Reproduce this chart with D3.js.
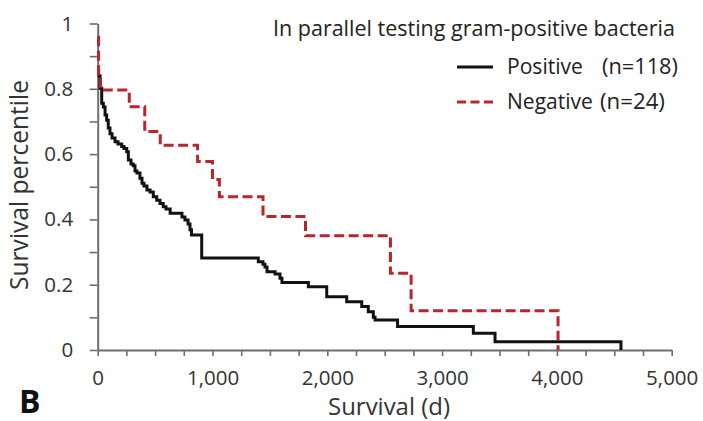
<!DOCTYPE html>
<html>
<head>
<meta charset="utf-8">
<script src="https://cdn.jsdelivr.net/npm/d3@7"></script>
<style>
  body { margin: 0; background: #fff; }
  svg { display: block; font-family: "Open Sans", sans-serif; }
</style>
</head>
<body>
<div class="vis-km"></div>
<script>
// Kaplan-Meier steps: time (d) -> survival after the step
const posTime = [0, 20, 35, 49, 64, 78, 92, 107, 125, 151, 177, 209, 229, 253, 267, 290, 310, 325, 342, 368, 386, 403, 429, 456, 484, 514, 543, 571, 595, 631, 734, 760, 787, 804, 817, 906, 1399, 1440, 1457, 1475, 1545, 1588, 1605, 1835, 1995, 2169, 2300, 2357, 2401, 2416, 2612, 3272, 3461, 4558];
const posSurv = [0.84, 0.802, 0.756, 0.744, 0.72, 0.704, 0.68, 0.662, 0.649, 0.638, 0.631, 0.623, 0.617, 0.607, 0.582, 0.57, 0.564, 0.548, 0.542, 0.526, 0.511, 0.502, 0.49, 0.484, 0.469, 0.459, 0.449, 0.439, 0.432, 0.419, 0.407, 0.398, 0.386, 0.368, 0.352, 0.282, 0.27, 0.263, 0.254, 0.24, 0.233, 0.22, 0.207, 0.194, 0.163, 0.148, 0.133, 0.117, 0.1, 0.092, 0.072, 0.051, 0.025, 0];

const negTime = [0, 8, 25, 275, 410, 545, 870, 1000, 1060, 1440, 1810, 2550, 2730, 4010];
const negSurv = [0.958, 0.84, 0.796, 0.745, 0.669, 0.627, 0.577, 0.522, 0.469, 0.409, 0.35, 0.235, 0.12, 0];

const xTicks = d3.range(0, 5001, 250);
const yTicks = d3.range(0, 1.001, 0.1).map(v => +v.toFixed(1));

const legendTitle = "In parallel testing gram-positive bacteria";
const seriesNames = ["Positive", "Negative"];
const seriesN = ["(n=118)", "(n=24)"];

const draw = () => {
    const width = 703, height = 421;

    const svg = d3.select('.vis-km')
        .append('svg')
        .attr('width', width)
        .attr('height', height);

    svg.append('rect').attr('width', width).attr('height', height).attr('fill', '#fff');

    const x = d3.scaleLinear().domain([0, 5000]).range([97.7, 671.7]);
    const y = d3.scaleLinear().domain([0, 1]).range([350, 23.5]);

    // axes
    const yAxis = d3.axisLeft(y)
        .tickValues(yTicks)
        .tickSize(8)
        .tickSizeOuter(0)
        .tickPadding(16.5)
        .tickFormat(d => (Math.round(d * 10) % 2 === 0) ? d3.format("")(d) : "");

    const xAxis = d3.axisBottom(x)
        .tickValues(xTicks)
        .tickSize(6)
        .tickSizeOuter(0)
        .tickPadding(14)
        .tickFormat(d => d % 1000 === 0 ? d3.format(",")(d) : "");

    const gy = svg.append('g').attr('transform', `translate(${x(0)},0)`).call(yAxis);
    const gx = svg.append('g').attr('transform', `translate(0,${y(0)})`).call(xAxis);

    [gx, gy].forEach(g => {
        g.select('.domain').attr('stroke', '#6e6e6e').attr('stroke-width', 2);
        g.selectAll('.tick line').attr('stroke', '#6e6e6e').attr('stroke-width', 1.6);
        g.selectAll('.tick text')
            .attr('fill', '#333')
            .style('font-family', '"Open Sans", sans-serif')
            .style('font-size', '20.5px');
    });

    // survival curves
    const line = d3.line()
        .x(d => x(d[0]))
        .y(d => y(d[1]))
        .curve(d3.curveStepAfter);

    const posData = posTime.map((t, i) => [t, posSurv[i]]);
    const negData = negTime.map((t, i) => [t, negSurv[i]]);

    svg.append('path')
        .datum(posData)
        .attr('fill', 'none')
        .attr('stroke', '#111')
        .attr('stroke-width', 3)
        .attr('d', line);

    svg.append('path')
        .datum(negData)
        .attr('fill', 'none')
        .attr('stroke', '#b5272d')
        .attr('stroke-width', 3)
        .attr('stroke-dasharray', '10,4.5')
        .attr('d', line);

    // fit a text to a target width by changing its font size
    function fit(sel, w) {
        const len = sel.node().getComputedTextLength();
        const fs = parseFloat(sel.style('font-size'));
        sel.style('font-size', (fs * w / len) + 'px');
    }

    // legend
    const title = svg.append('text')
        .attr('x', 273).attr('y', 36)
        .attr('fill', '#222')
        .style('font-size', '19px')
        .text(legendTitle);
    fit(title, 402);

    const legY = [67, 102];
    const legColor = ['#111', '#b5272d'];
    const nX = [602, 600];
    seriesNames.forEach((name, i) => {
        svg.append('line')
            .attr('x1', 457).attr('x2', 493)
            .attr('y1', legY[i]).attr('y2', legY[i])
            .attr('stroke', legColor[i])
            .attr('stroke-width', 3)
            .attr('stroke-dasharray', i === 1 ? '9,4.5' : null);
        const t = svg.append('text')
            .attr('x', 507).attr('y', legY[i] + 7)
            .attr('fill', '#222')
            .style('font-size', '20px')
            .text(name);
        fit(t, i === 0 ? 76 : 86);
        const n = svg.append('text')
            .attr('x', nX[i]).attr('y', legY[i] + 7)
            .attr('fill', '#222')
            .style('font-size', '20px')
            .text(seriesN[i]);
        fit(n, i === 0 ? 76 : 65);
    });

    // axis titles
    const xt = svg.append('text')
        .attr('x', 389).attr('y', 415)
        .attr('text-anchor', 'middle')
        .attr('fill', '#333')
        .style('font-size', '20px')
        .text('Survival (d)');
    fit(xt, 122);

    const yt = svg.append('text')
        .attr('transform', 'translate(28,185) rotate(-90)')
        .attr('text-anchor', 'middle')
        .attr('fill', '#333')
        .style('font-size', '21px')
        .text('Survival percentile');
    fit(yt, 210);

    // panel letter
    svg.append('text')
        .attr('x', 19).attr('y', 413)
        .attr('fill', '#111')
        .style('font-size', '32px')
        .style('font-weight', 'bold')
        .text('B');
};

draw();
</script>
</body>
</html>
